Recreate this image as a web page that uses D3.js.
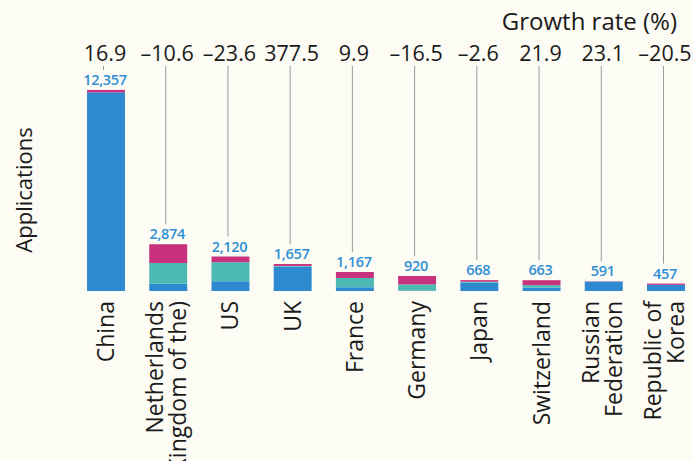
<!DOCTYPE html>
<meta charset="utf-8">
<style>
body { margin: 0; background: #fcfbf4; }
svg { display: block; font-family: "Open Sans", "Noto Sans", sans-serif; }
.growth { font-size: 21.5px; fill: #1a1a1a; text-anchor: middle; }
.value { font-size: 14.5px; font-weight: 600; fill: #2f8fd4; text-anchor: middle; letter-spacing: -0.3px; }
.country { font-size: 23px; fill: #1a1a1a; text-anchor: end; }
.leader { stroke: #9a9a9a; stroke-width: 1; }
</style>
<body>
<script src="https://d3js.org/d3.v7.min.js"></script>
<script>

var width = 693;
var height = 461;

// countries, label lines for the rotated axis text
var countries = ['China', 'Netherlands', 'US', 'UK', 'France', 'Germany', 'Japan', 'Switzerland', 'Russia', 'Korea'];
var countryLines = [
  ['China'], ['Netherlands', '(Kingdom of the)'], ['US'], ['UK'], ['France'],
  ['Germany'], ['Japan'], ['Switzerland'], ['Russian', 'Federation'], ['Republic of', 'Korea']
];
var totals = [12357, 2874, 2120, 1657, 1167, 920, 668, 663, 591, 457];
var growth = ['16.9', '\u201310.6', '\u201323.6', '377.5', '9.9', '\u201316.5', '\u20132.6', '21.9', '23.1', '\u201320.5'];

// stacked segments
var blueVals    = [12207, 450, 600, 1500, 230, 20, 508, 213, 571, 377];
var tealVals    = [0, 1270, 1170, 40, 570, 385, 60, 150, 0, 0];
var magentaVals = [150, 1154, 350, 117, 367, 515, 100, 300, 20, 80];

var colors = { blue: '#2d8ad0', teal: '#4cbab3', magenta: '#c8327d' };

var rows = countries.map((c, i) => ({
  country: c, blue: blueVals[i], teal: tealVals[i], magenta: magentaVals[i]
}));

var svg = d3.select('body').append('svg')
  .attr('width', width)
  .attr('height', height);

var x = d3.scaleBand()
  .domain(countries)
  .range([74.9, 697.1])
  .paddingInner(0.39)
  .paddingOuter(0.195);

var y = d3.scaleLinear()
  .domain([0, 12500])
  .range([291, 87.6]);

var cx = d => x(d) + x.bandwidth() / 2;

var series = d3.stack().keys(['blue', 'teal', 'magenta'])(rows);

svg.selectAll('.layer')
  .data(series)
  .enter().append('g')
  .attr('class', 'layer')
  .attr('fill', d => colors[d.key])
  .selectAll('rect')
  .data(d => d)
  .enter().append('rect')
  .attr('x', d => x(d.data.country))
  .attr('width', x.bandwidth())
  .attr('y', d => y(d[1]))
  .attr('height', d => y(d[0]) - y(d[1]));

// leader lines from growth rate down to value label
svg.selectAll('.leader')
  .data(countries)
  .enter().append('line')
  .attr('class', 'leader')
  .attr('x1', d => cx(d) - 2.5)
  .attr('x2', d => cx(d) - 2.5)
  .attr('y1', 66)
  .attr('y2', (d, i) => y(totals[i]) - 20);

svg.selectAll('.value')
  .data(countries)
  .enter().append('text')
  .attr('class', 'value')
  .attr('x', d => cx(d) - 1)
  .attr('y', (d, i) => y(totals[i]) - 5)
  .text((d, i) => d3.format(',')(totals[i]));

svg.selectAll('.growth')
  .data(countries)
  .enter().append('text')
  .attr('class', 'growth')
  .attr('x', d => cx(d) - 1)
  .attr('y', 61)
  .text((d, i) => growth[i]);

svg.append('text')
  .attr('x', 677)
  .attr('y', 30)
  .attr('text-anchor', 'end')
  .style('font-size', '24px')
  .style('fill', '#1a1a1a')
  .text('Growth rate (%)');

svg.append('text')
  .attr('transform', 'translate(32,190) rotate(-90)')
  .attr('text-anchor', 'middle')
  .style('font-size', '22px')
  .style('fill', '#1a1a1a')
  .text('Applications');

// rotated country labels
var lab = svg.selectAll('.country')
  .data(countries)
  .enter().append('text')
  .attr('class', 'country')
  .attr('transform', (d, i) => {
    var n = countryLines[i].length;
    var bx = n === 1 ? cx(d) + 8 : cx(d) - 5;
    return 'translate(' + bx + ',301) rotate(-90)';
  });

lab.selectAll('tspan')
  .data((d, i) => countryLines[i])
  .enter().append('tspan')
  .attr('x', 0)
  .attr('y', (d, j) => j * 23)
  .text(d => d);

</script>
</body>
